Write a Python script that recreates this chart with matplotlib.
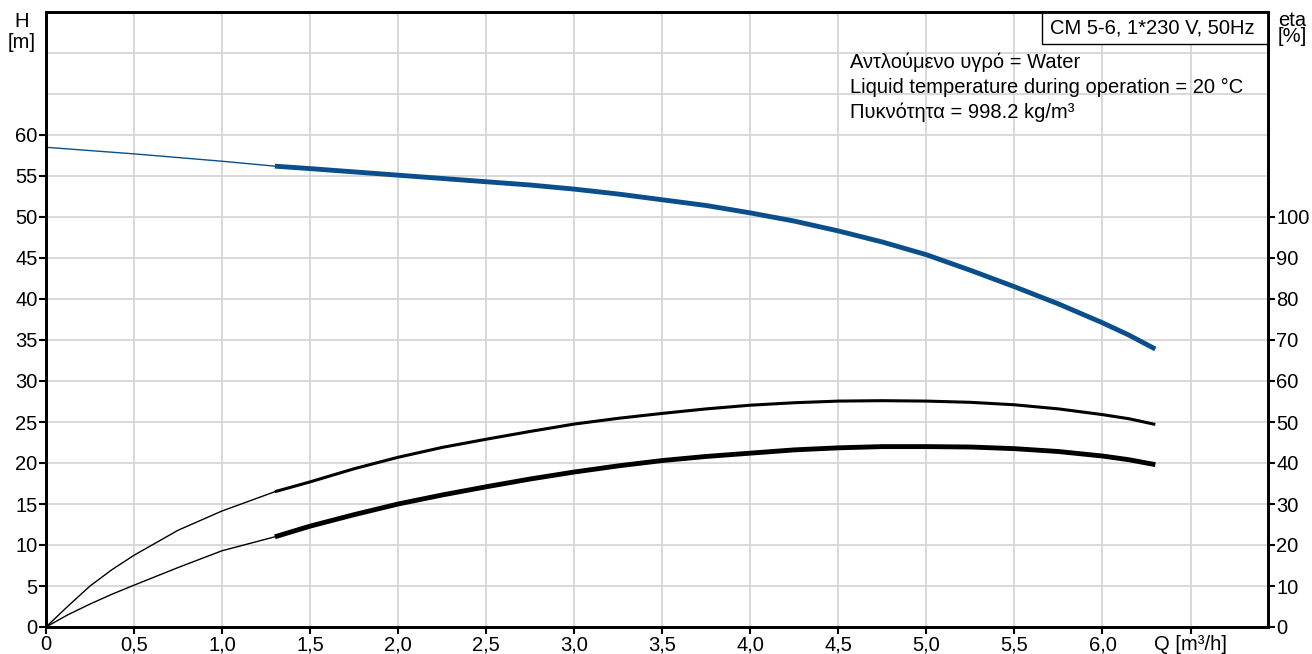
import matplotlib
matplotlib.use("Agg")
import matplotlib.pyplot as plt
from matplotlib.patches import Rectangle

plt.rcParams['font.family'] = ['Liberation Sans', 'DejaVu Sans']

# H curve [m]
q_h_thin = [0, 0.5, 1.0, 1.3]
h_thin = [58.5, 57.7, 56.8, 56.2]
q_h = [1.3, 1.5, 1.75, 2.0, 2.25, 2.5, 2.75, 3.0, 3.25, 3.5, 3.75, 4.0, 4.25,
       4.5, 4.75, 5.0, 5.25, 5.5, 5.75, 6.0, 6.15, 6.3]
h = [56.2, 55.9, 55.5, 55.1, 54.7, 54.3, 53.9, 53.4, 52.8, 52.1, 51.4, 50.5, 49.5,
     48.3, 46.95, 45.4, 43.5, 41.5, 39.4, 37.1, 35.6, 33.9]

# eta curves [%], thin part up to 1.3 m3/h, thick part after
q_e_thin = [0, 0.125, 0.25, 0.375, 0.5, 0.75, 1.0, 1.3]
eta1_thin = [0, 5.1, 10.0, 14.0, 17.5, 23.6, 28.3, 33.0]
eta2_thin = [0, 3.0, 5.6, 8.0, 10.2, 14.5, 18.6, 22.0]
q_e = q_h
eta1 = [33.0, 35.4, 38.6, 41.4, 43.8, 45.8, 47.7, 49.5, 50.9, 52.1, 53.2, 54.1, 54.7,
        55.1, 55.2, 55.1, 54.8, 54.2, 53.2, 51.8, 50.8, 49.4]
eta2 = [22.0, 24.6, 27.4, 30.0, 32.2, 34.2, 36.1, 37.8, 39.3, 40.6, 41.6, 42.4, 43.2,
        43.7, 44.0, 44.0, 43.9, 43.5, 42.8, 41.7, 40.8, 39.6]

x_ticks = [0, 0.5, 1.0, 1.5, 2.0, 2.5, 3.0, 3.5, 4.0, 4.5, 5.0, 5.5, 6.0, 6.5]
x_labels = ['0', '0,5', '1,0', '1,5', '2,0', '2,5', '3,0', '3,5', '4,0', '4,5',
            '5,0', '5,5', '6,0', 'Q [m³/h]']
h_ticks = [0, 5, 10, 15, 20, 25, 30, 35, 40, 45, 50, 55, 60]
eta_ticks = [0, 10, 20, 30, 40, 50, 60, 70, 80, 90, 100]

blue = '#0a4f8c'
grid_c = '#d3d5d8'
fs = 14.5

fig = plt.figure(figsize=(13.12, 6.54), dpi=100)
ax = fig.add_axes([46 / 1312, 27 / 654, 1222 / 1312, 615 / 654])
ax2 = ax.twinx()

ax.set_xlim(0, 6.94)
ax.set_ylim(0, 75)
ax2.set_ylim(0, 150)

# grid
for x in x_ticks:
    ax.axvline(x, color=grid_c, lw=1.3, zorder=0)
for y in range(5, 76, 5):
    ax.axhline(y, color=grid_c, lw=1.3, zorder=0)

ax.plot(q_h_thin, h_thin, color=blue, lw=1.0)
ax.plot(q_h, h, color=blue, lw=3.5, solid_capstyle='butt')
ax2.plot(q_e_thin, eta1_thin, color='black', lw=1.0)
ax2.plot(q_e, eta1, color='black', lw=2.2, solid_capstyle='butt')
ax2.plot(q_e_thin, eta2_thin, color='black', lw=1.0)
ax2.plot(q_e, eta2, color='black', lw=3.5, solid_capstyle='butt')

ax.set_xticks(x_ticks)
ax.set_xticklabels(x_labels)
ax.set_yticks(h_ticks)
ax2.set_yticks(eta_ticks)

for a in (ax, ax2):
    a.tick_params(labelsize=fs, length=5, width=1.5, direction='out', pad=1)
    for s in a.spines.values():
        s.set_linewidth(2)
        s.set_color('black')

fig.text(22 / 1312, 1 - 32 / 654, 'H\n[m]', ha='center', va='center', fontsize=fs, linespacing=1.15)
fig.text(1292 / 1312, 1 - 29 / 654, 'eta\n[%]', ha='center', va='center', fontsize=fs, linespacing=0.8)

# title box in the top right corner
bx0 = (1042 - 46) / 1222
by0 = (627 - 44) / 615
ax.add_patch(Rectangle((bx0, by0), 1 - bx0, 1 - by0, transform=ax.transAxes,
                       fc='white', ec='black', lw=1, zorder=5))
ax.text((bx0 + 1) / 2 - 0.002, (by0 + 1) / 2, 'CM 5-6, 1*230 V, 50Hz', transform=ax.transAxes,
        ha='center', va='center', fontsize=fs, zorder=6)

info = ['Αντλούμενο υγρό = Water',
        'Liquid temperature during operation = 20 °C',
        'Πυκνότητα = 998.2 kg/m³']
for i, t in enumerate(info):
    ax.text((850 - 46) / 1222, 1 - (62 + 25 * i - 12) / 615, t,
            transform=ax.transAxes, ha='left', va='center', fontsize=fs)

fig.savefig('out.png', dpi=100)
